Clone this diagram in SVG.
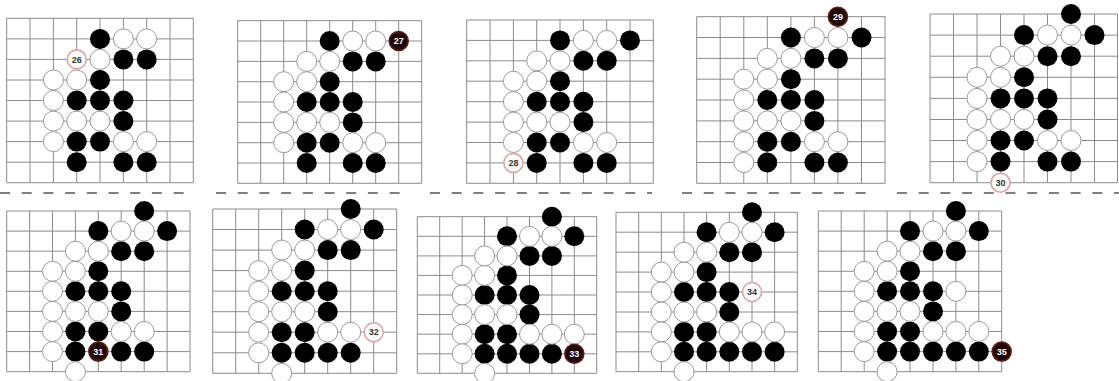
<svg xmlns="http://www.w3.org/2000/svg" width="1119" height="381" viewBox="0 0 1119 381">
<style>
.g{fill:none;stroke:#8c8c8c;stroke-width:1}
.b{fill:#000}
.w{fill:#fff;stroke:#9a9a9a;stroke-width:1}
.nw{fill:#fff;stroke:#dba5a5;stroke-width:1.6}
.nb{fill:#1e0606;stroke:#5c1c1c;stroke-width:1.6}
.t{font-family:"Liberation Sans",Arial,sans-serif;font-size:9px;font-weight:bold;text-anchor:middle}
.tw{fill:#333}
.tb{fill:#fff}
.d{stroke:#555;stroke-width:1.3;stroke-dasharray:10 11.7;fill:none}
</style>
<rect width="1119" height="381" fill="#fff"/>
<g id="connectors">
<path class="d" d="M0 193H186M216 193H400M430 193H652M682 193H866M897 193H1119"/>
</g>

<g id="board-26">
<path class="g" d="M6.7 18.3V182.7M30 18.3V182.7M53.4 18.3V182.7M76.7 18.3V182.7M100 18.3V182.7M123.4 18.3V182.7M146.7 18.3V182.7M170 18.3V182.7M193.3 18.3V182.7M6.7 18.3H193.3M6.7 38.9H193.3M6.7 59.4H193.3M6.7 80H193.3M6.7 100.5H193.3M6.7 121.1H193.3M6.7 141.6H193.3M6.7 162.2H193.3M6.7 182.7H193.3"/>
<g class="b"><circle cx="100" cy="38.9" r="10"/><circle cx="123.4" cy="59.4" r="10"/><circle cx="146.7" cy="59.4" r="10"/><circle cx="100" cy="80" r="10"/><circle cx="76.7" cy="100.5" r="10"/><circle cx="100" cy="100.5" r="10"/><circle cx="123.4" cy="100.5" r="10"/><circle cx="123.4" cy="121.1" r="10"/><circle cx="76.7" cy="141.6" r="10"/><circle cx="100" cy="141.6" r="10"/><circle cx="76.7" cy="162.2" r="10"/><circle cx="123.4" cy="162.2" r="10"/><circle cx="146.7" cy="162.2" r="10"/></g>
<g class="w"><circle cx="123.4" cy="38.9" r="10"/><circle cx="146.7" cy="38.9" r="10"/><circle cx="100" cy="59.4" r="10"/><circle cx="53.4" cy="80" r="10"/><circle cx="76.7" cy="80" r="10"/><circle cx="53.4" cy="100.5" r="10"/><circle cx="53.4" cy="121.1" r="10"/><circle cx="76.7" cy="121.1" r="10"/><circle cx="100" cy="121.1" r="10"/><circle cx="53.4" cy="141.6" r="10"/><circle cx="123.4" cy="141.6" r="10"/><circle cx="146.7" cy="141.6" r="10"/></g>
<circle class="nw" cx="76.7" cy="59.4" r="9.5"/><text class="t tw" x="76.7" y="62.6">26</text>
</g>

<g id="board-27">
<path class="g" d="M237.7 20.7V183.3M260.7 20.7V183.3M283.7 20.7V183.3M306.7 20.7V183.3M329.7 20.7V183.3M352.7 20.7V183.3M375.7 20.7V183.3M398.7 20.7V183.3M421.7 20.7V183.3M237.7 20.7H421.7M237.7 41H421.7M237.7 61.4H421.7M237.7 81.7H421.7M237.7 102H421.7M237.7 122.4H421.7M237.7 142.7H421.7M237.7 163H421.7M237.7 183.3H421.7"/>
<g class="b"><circle cx="329.7" cy="41" r="10"/><circle cx="352.7" cy="61.4" r="10"/><circle cx="375.7" cy="61.4" r="10"/><circle cx="329.7" cy="81.7" r="10"/><circle cx="306.7" cy="102" r="10"/><circle cx="329.7" cy="102" r="10"/><circle cx="352.7" cy="102" r="10"/><circle cx="352.7" cy="122.4" r="10"/><circle cx="306.7" cy="142.7" r="10"/><circle cx="329.7" cy="142.7" r="10"/><circle cx="306.7" cy="163" r="10"/><circle cx="352.7" cy="163" r="10"/><circle cx="375.7" cy="163" r="10"/></g>
<g class="w"><circle cx="352.7" cy="41" r="10"/><circle cx="375.7" cy="41" r="10"/><circle cx="329.7" cy="61.4" r="10"/><circle cx="283.7" cy="81.7" r="10"/><circle cx="306.7" cy="81.7" r="10"/><circle cx="283.7" cy="102" r="10"/><circle cx="283.7" cy="122.4" r="10"/><circle cx="306.7" cy="122.4" r="10"/><circle cx="329.7" cy="122.4" r="10"/><circle cx="283.7" cy="142.7" r="10"/><circle cx="352.7" cy="142.7" r="10"/><circle cx="375.7" cy="142.7" r="10"/><circle cx="306.7" cy="61.4" r="10"/></g>
<circle class="nb" cx="398.7" cy="41" r="9.5"/><text class="t tb" x="398.7" y="44.2">27</text>
</g>

<g id="board-28">
<path class="g" d="M466.7 20V183.3M490 20V183.3M513.4 20V183.3M536.7 20V183.3M560 20V183.3M583.4 20V183.3M606.7 20V183.3M630 20V183.3M653.3 20V183.3M466.7 20H653.3M466.7 40.4H653.3M466.7 60.8H653.3M466.7 81.2H653.3M466.7 101.7H653.3M466.7 122.1H653.3M466.7 142.5H653.3M466.7 162.9H653.3M466.7 183.3H653.3"/>
<g class="b"><circle cx="560" cy="40.4" r="10"/><circle cx="583.4" cy="60.8" r="10"/><circle cx="606.7" cy="60.8" r="10"/><circle cx="560" cy="81.2" r="10"/><circle cx="536.7" cy="101.7" r="10"/><circle cx="560" cy="101.7" r="10"/><circle cx="583.4" cy="101.7" r="10"/><circle cx="583.4" cy="122.1" r="10"/><circle cx="536.7" cy="142.5" r="10"/><circle cx="560" cy="142.5" r="10"/><circle cx="536.7" cy="162.9" r="10"/><circle cx="583.4" cy="162.9" r="10"/><circle cx="606.7" cy="162.9" r="10"/><circle cx="630" cy="40.4" r="10"/></g>
<g class="w"><circle cx="583.4" cy="40.4" r="10"/><circle cx="606.7" cy="40.4" r="10"/><circle cx="560" cy="60.8" r="10"/><circle cx="513.4" cy="81.2" r="10"/><circle cx="536.7" cy="81.2" r="10"/><circle cx="513.4" cy="101.7" r="10"/><circle cx="513.4" cy="122.1" r="10"/><circle cx="536.7" cy="122.1" r="10"/><circle cx="560" cy="122.1" r="10"/><circle cx="513.4" cy="142.5" r="10"/><circle cx="583.4" cy="142.5" r="10"/><circle cx="606.7" cy="142.5" r="10"/><circle cx="536.7" cy="60.8" r="10"/></g>
<circle class="nw" cx="513.4" cy="162.9" r="9.5"/><text class="t tw" x="513.4" y="166.1">28</text>
</g>

<g id="board-29">
<path class="g" d="M696.7 16.7V183.3M720.2 16.7V183.3M743.8 16.7V183.3M767.3 16.7V183.3M790.9 16.7V183.3M814.4 16.7V183.3M837.9 16.7V183.3M861.5 16.7V183.3M885 16.7V183.3M696.7 16.7H885M696.7 37.5H885M696.7 58.4H885M696.7 79.2H885M696.7 100H885M696.7 120.9H885M696.7 141.7H885M696.7 162.5H885M696.7 183.3H885"/>
<g class="b"><circle cx="790.9" cy="37.5" r="10"/><circle cx="814.4" cy="58.4" r="10"/><circle cx="837.9" cy="58.4" r="10"/><circle cx="790.9" cy="79.2" r="10"/><circle cx="767.3" cy="100" r="10"/><circle cx="790.9" cy="100" r="10"/><circle cx="814.4" cy="100" r="10"/><circle cx="814.4" cy="120.9" r="10"/><circle cx="767.3" cy="141.7" r="10"/><circle cx="790.9" cy="141.7" r="10"/><circle cx="767.3" cy="162.5" r="10"/><circle cx="814.4" cy="162.5" r="10"/><circle cx="837.9" cy="162.5" r="10"/><circle cx="861.5" cy="37.5" r="10"/></g>
<g class="w"><circle cx="814.4" cy="37.5" r="10"/><circle cx="837.9" cy="37.5" r="10"/><circle cx="790.9" cy="58.4" r="10"/><circle cx="743.8" cy="79.2" r="10"/><circle cx="767.3" cy="79.2" r="10"/><circle cx="743.8" cy="100" r="10"/><circle cx="743.8" cy="120.9" r="10"/><circle cx="767.3" cy="120.9" r="10"/><circle cx="790.9" cy="120.9" r="10"/><circle cx="743.8" cy="141.7" r="10"/><circle cx="814.4" cy="141.7" r="10"/><circle cx="837.9" cy="141.7" r="10"/><circle cx="767.3" cy="58.4" r="10"/><circle cx="743.8" cy="162.5" r="10"/></g>
<circle class="nb" cx="837.9" cy="16.7" r="9.5"/><text class="t tb" x="837.9" y="19.9">29</text>
</g>

<g id="board-30">
<path class="g" d="M930 14V182.7M953.5 14V182.7M977 14V182.7M1000.5 14V182.7M1024 14V182.7M1047.5 14V182.7M1071 14V182.7M1094.5 14V182.7M1117.5 14V182.7M930 14H1117.5M930 35.1H1117.5M930 56.2H1117.5M930 77.3H1117.5M930 98.4H1117.5M930 119.5H1117.5M930 140.5H1117.5M930 161.6H1117.5M930 182.7H1117.5"/>
<g class="b"><circle cx="1024" cy="35.1" r="10"/><circle cx="1047.5" cy="56.2" r="10"/><circle cx="1071" cy="56.2" r="10"/><circle cx="1024" cy="77.3" r="10"/><circle cx="1000.5" cy="98.4" r="10"/><circle cx="1024" cy="98.4" r="10"/><circle cx="1047.5" cy="98.4" r="10"/><circle cx="1047.5" cy="119.5" r="10"/><circle cx="1000.5" cy="140.5" r="10"/><circle cx="1024" cy="140.5" r="10"/><circle cx="1000.5" cy="161.6" r="10"/><circle cx="1047.5" cy="161.6" r="10"/><circle cx="1071" cy="161.6" r="10"/><circle cx="1094.5" cy="35.1" r="10"/><circle cx="1071" cy="14" r="10"/></g>
<g class="w"><circle cx="1047.5" cy="35.1" r="10"/><circle cx="1071" cy="35.1" r="10"/><circle cx="1024" cy="56.2" r="10"/><circle cx="977" cy="77.3" r="10"/><circle cx="1000.5" cy="77.3" r="10"/><circle cx="977" cy="98.4" r="10"/><circle cx="977" cy="119.5" r="10"/><circle cx="1000.5" cy="119.5" r="10"/><circle cx="1024" cy="119.5" r="10"/><circle cx="977" cy="140.5" r="10"/><circle cx="1047.5" cy="140.5" r="10"/><circle cx="1071" cy="140.5" r="10"/><circle cx="1000.5" cy="56.2" r="10"/><circle cx="977" cy="161.6" r="10"/></g>
<circle class="nw" cx="1000.5" cy="182.7" r="9.5"/><text class="t tw" x="1000.5" y="185.9">30</text>
</g>

<g id="board-31">
<path class="g" d="M6.7 211V371.7M29.6 211V371.7M52.5 211V371.7M75.4 211V371.7M98.3 211V371.7M121.2 211V371.7M144.2 211V371.7M167.1 211V371.7M190 211V371.7M6.7 211H190M6.7 231.1H190M6.7 251.2H190M6.7 271.3H190M6.7 291.3H190M6.7 311.4H190M6.7 331.5H190M6.7 351.6H190M6.7 371.7H190"/>
<g class="b"><circle cx="98.3" cy="231.1" r="10"/><circle cx="121.2" cy="251.2" r="10"/><circle cx="144.2" cy="251.2" r="10"/><circle cx="98.3" cy="271.3" r="10"/><circle cx="75.4" cy="291.3" r="10"/><circle cx="98.3" cy="291.3" r="10"/><circle cx="121.2" cy="291.3" r="10"/><circle cx="121.2" cy="311.4" r="10"/><circle cx="75.4" cy="331.5" r="10"/><circle cx="98.3" cy="331.5" r="10"/><circle cx="75.4" cy="351.6" r="10"/><circle cx="121.2" cy="351.6" r="10"/><circle cx="144.2" cy="351.6" r="10"/><circle cx="167.1" cy="231.1" r="10"/><circle cx="144.2" cy="211" r="10"/></g>
<g class="w"><circle cx="121.2" cy="231.1" r="10"/><circle cx="144.2" cy="231.1" r="10"/><circle cx="98.3" cy="251.2" r="10"/><circle cx="52.5" cy="271.3" r="10"/><circle cx="75.4" cy="271.3" r="10"/><circle cx="52.5" cy="291.3" r="10"/><circle cx="52.5" cy="311.4" r="10"/><circle cx="75.4" cy="311.4" r="10"/><circle cx="98.3" cy="311.4" r="10"/><circle cx="52.5" cy="331.5" r="10"/><circle cx="121.2" cy="331.5" r="10"/><circle cx="144.2" cy="331.5" r="10"/><circle cx="75.4" cy="251.2" r="10"/><circle cx="52.5" cy="351.6" r="10"/><circle cx="75.4" cy="371.7" r="10"/></g>
<circle class="nb" cx="98.3" cy="351.6" r="9.5"/><text class="t tb" x="98.3" y="354.8">31</text>
</g>

<g id="board-32">
<path class="g" d="M212.7 209V373.3M235.7 209V373.3M258.7 209V373.3M281.7 209V373.3M304.7 209V373.3M327.7 209V373.3M350.7 209V373.3M373.7 209V373.3M396.7 209V373.3M212.7 209H396.7M212.7 229.5H396.7M212.7 250.1H396.7M212.7 270.6H396.7M212.7 291.2H396.7M212.7 311.7H396.7M212.7 332.2H396.7M212.7 352.8H396.7M212.7 373.3H396.7"/>
<g class="b"><circle cx="304.7" cy="229.5" r="10"/><circle cx="327.7" cy="250.1" r="10"/><circle cx="350.7" cy="250.1" r="10"/><circle cx="304.7" cy="270.6" r="10"/><circle cx="281.7" cy="291.2" r="10"/><circle cx="304.7" cy="291.2" r="10"/><circle cx="327.7" cy="291.2" r="10"/><circle cx="327.7" cy="311.7" r="10"/><circle cx="281.7" cy="332.2" r="10"/><circle cx="304.7" cy="332.2" r="10"/><circle cx="281.7" cy="352.8" r="10"/><circle cx="327.7" cy="352.8" r="10"/><circle cx="350.7" cy="352.8" r="10"/><circle cx="373.7" cy="229.5" r="10"/><circle cx="350.7" cy="209" r="10"/><circle cx="304.7" cy="352.8" r="10"/></g>
<g class="w"><circle cx="327.7" cy="229.5" r="10"/><circle cx="350.7" cy="229.5" r="10"/><circle cx="304.7" cy="250.1" r="10"/><circle cx="258.7" cy="270.6" r="10"/><circle cx="281.7" cy="270.6" r="10"/><circle cx="258.7" cy="291.2" r="10"/><circle cx="258.7" cy="311.7" r="10"/><circle cx="281.7" cy="311.7" r="10"/><circle cx="304.7" cy="311.7" r="10"/><circle cx="258.7" cy="332.2" r="10"/><circle cx="327.7" cy="332.2" r="10"/><circle cx="350.7" cy="332.2" r="10"/><circle cx="281.7" cy="250.1" r="10"/><circle cx="258.7" cy="352.8" r="10"/><circle cx="281.7" cy="373.3" r="10"/></g>
<circle class="nw" cx="373.7" cy="332.2" r="9.5"/><text class="t tw" x="373.7" y="335.4">32</text>
</g>

<g id="board-33">
<path class="g" d="M417.3 216.7V373.3M439.7 216.7V373.3M462.2 216.7V373.3M484.6 216.7V373.3M507 216.7V373.3M529.5 216.7V373.3M551.9 216.7V373.3M574.3 216.7V373.3M596.7 216.7V373.3M417.3 216.7H596.7M417.3 236.3H596.7M417.3 255.9H596.7M417.3 275.4H596.7M417.3 295H596.7M417.3 314.6H596.7M417.3 334.2H596.7M417.3 353.8H596.7M417.3 373.3H596.7"/>
<g class="b"><circle cx="507" cy="236.3" r="10"/><circle cx="529.5" cy="255.9" r="10"/><circle cx="551.9" cy="255.9" r="10"/><circle cx="507" cy="275.4" r="10"/><circle cx="484.6" cy="295" r="10"/><circle cx="507" cy="295" r="10"/><circle cx="529.5" cy="295" r="10"/><circle cx="529.5" cy="314.6" r="10"/><circle cx="484.6" cy="334.2" r="10"/><circle cx="507" cy="334.2" r="10"/><circle cx="484.6" cy="353.8" r="10"/><circle cx="529.5" cy="353.8" r="10"/><circle cx="551.9" cy="353.8" r="10"/><circle cx="574.3" cy="236.3" r="10"/><circle cx="551.9" cy="216.7" r="10"/><circle cx="507" cy="353.8" r="10"/></g>
<g class="w"><circle cx="529.5" cy="236.3" r="10"/><circle cx="551.9" cy="236.3" r="10"/><circle cx="507" cy="255.9" r="10"/><circle cx="462.2" cy="275.4" r="10"/><circle cx="484.6" cy="275.4" r="10"/><circle cx="462.2" cy="295" r="10"/><circle cx="462.2" cy="314.6" r="10"/><circle cx="484.6" cy="314.6" r="10"/><circle cx="507" cy="314.6" r="10"/><circle cx="462.2" cy="334.2" r="10"/><circle cx="529.5" cy="334.2" r="10"/><circle cx="551.9" cy="334.2" r="10"/><circle cx="484.6" cy="255.9" r="10"/><circle cx="462.2" cy="353.8" r="10"/><circle cx="484.6" cy="373.3" r="10"/><circle cx="574.3" cy="334.2" r="10"/></g>
<circle class="nb" cx="574.3" cy="353.8" r="9.5"/><text class="t tb" x="574.3" y="357">33</text>
</g>

<g id="board-34">
<path class="g" d="M616 212.3V371.7M638.7 212.3V371.7M661.3 212.3V371.7M684 212.3V371.7M706.6 212.3V371.7M729.3 212.3V371.7M752 212.3V371.7M774.6 212.3V371.7M797.3 212.3V371.7M616 212.3H797.3M616 232.2H797.3M616 252.2H797.3M616 272.1H797.3M616 292H797.3M616 312H797.3M616 331.9H797.3M616 351.8H797.3M616 371.7H797.3"/>
<g class="b"><circle cx="706.6" cy="232.2" r="10"/><circle cx="729.3" cy="252.2" r="10"/><circle cx="752" cy="252.2" r="10"/><circle cx="706.6" cy="272.1" r="10"/><circle cx="684" cy="292" r="10"/><circle cx="706.6" cy="292" r="10"/><circle cx="729.3" cy="292" r="10"/><circle cx="729.3" cy="312" r="10"/><circle cx="684" cy="331.9" r="10"/><circle cx="706.6" cy="331.9" r="10"/><circle cx="684" cy="351.8" r="10"/><circle cx="729.3" cy="351.8" r="10"/><circle cx="752" cy="351.8" r="10"/><circle cx="774.6" cy="232.2" r="10"/><circle cx="752" cy="212.3" r="10"/><circle cx="706.6" cy="351.8" r="10"/><circle cx="774.6" cy="351.8" r="10"/></g>
<g class="w"><circle cx="729.3" cy="232.2" r="10"/><circle cx="752" cy="232.2" r="10"/><circle cx="706.6" cy="252.2" r="10"/><circle cx="661.3" cy="272.1" r="10"/><circle cx="684" cy="272.1" r="10"/><circle cx="661.3" cy="292" r="10"/><circle cx="661.3" cy="312" r="10"/><circle cx="684" cy="312" r="10"/><circle cx="706.6" cy="312" r="10"/><circle cx="661.3" cy="331.9" r="10"/><circle cx="729.3" cy="331.9" r="10"/><circle cx="752" cy="331.9" r="10"/><circle cx="684" cy="252.2" r="10"/><circle cx="661.3" cy="351.8" r="10"/><circle cx="684" cy="371.7" r="10"/><circle cx="774.6" cy="331.9" r="10"/></g>
<circle class="nw" cx="752" cy="292" r="9.5"/><text class="t tw" x="752" y="295.2">34</text>
</g>

<g id="board-35">
<path class="g" d="M818.3 211V371.7M841.2 211V371.7M864.2 211V371.7M887.1 211V371.7M910 211V371.7M933 211V371.7M955.9 211V371.7M978.8 211V371.7M1001.7 211V371.7M818.3 211H1001.7M818.3 231.1H1001.7M818.3 251.2H1001.7M818.3 271.3H1001.7M818.3 291.3H1001.7M818.3 311.4H1001.7M818.3 331.5H1001.7M818.3 351.6H1001.7M818.3 371.7H1001.7"/>
<g class="b"><circle cx="910" cy="231.1" r="10"/><circle cx="933" cy="251.2" r="10"/><circle cx="955.9" cy="251.2" r="10"/><circle cx="910" cy="271.3" r="10"/><circle cx="887.1" cy="291.3" r="10"/><circle cx="910" cy="291.3" r="10"/><circle cx="933" cy="291.3" r="10"/><circle cx="933" cy="311.4" r="10"/><circle cx="887.1" cy="331.5" r="10"/><circle cx="910" cy="331.5" r="10"/><circle cx="887.1" cy="351.6" r="10"/><circle cx="933" cy="351.6" r="10"/><circle cx="955.9" cy="351.6" r="10"/><circle cx="978.8" cy="231.1" r="10"/><circle cx="955.9" cy="211" r="10"/><circle cx="910" cy="351.6" r="10"/><circle cx="978.8" cy="351.6" r="10"/></g>
<g class="w"><circle cx="933" cy="231.1" r="10"/><circle cx="955.9" cy="231.1" r="10"/><circle cx="910" cy="251.2" r="10"/><circle cx="864.2" cy="271.3" r="10"/><circle cx="887.1" cy="271.3" r="10"/><circle cx="864.2" cy="291.3" r="10"/><circle cx="864.2" cy="311.4" r="10"/><circle cx="887.1" cy="311.4" r="10"/><circle cx="910" cy="311.4" r="10"/><circle cx="864.2" cy="331.5" r="10"/><circle cx="933" cy="331.5" r="10"/><circle cx="955.9" cy="331.5" r="10"/><circle cx="887.1" cy="251.2" r="10"/><circle cx="864.2" cy="351.6" r="10"/><circle cx="887.1" cy="371.7" r="10"/><circle cx="978.8" cy="331.5" r="10"/><circle cx="955.9" cy="291.3" r="10"/></g>
<circle class="nb" cx="1001.7" cy="351.6" r="9.5"/><text class="t tb" x="1001.7" y="354.8">35</text>
</g>
</svg>
